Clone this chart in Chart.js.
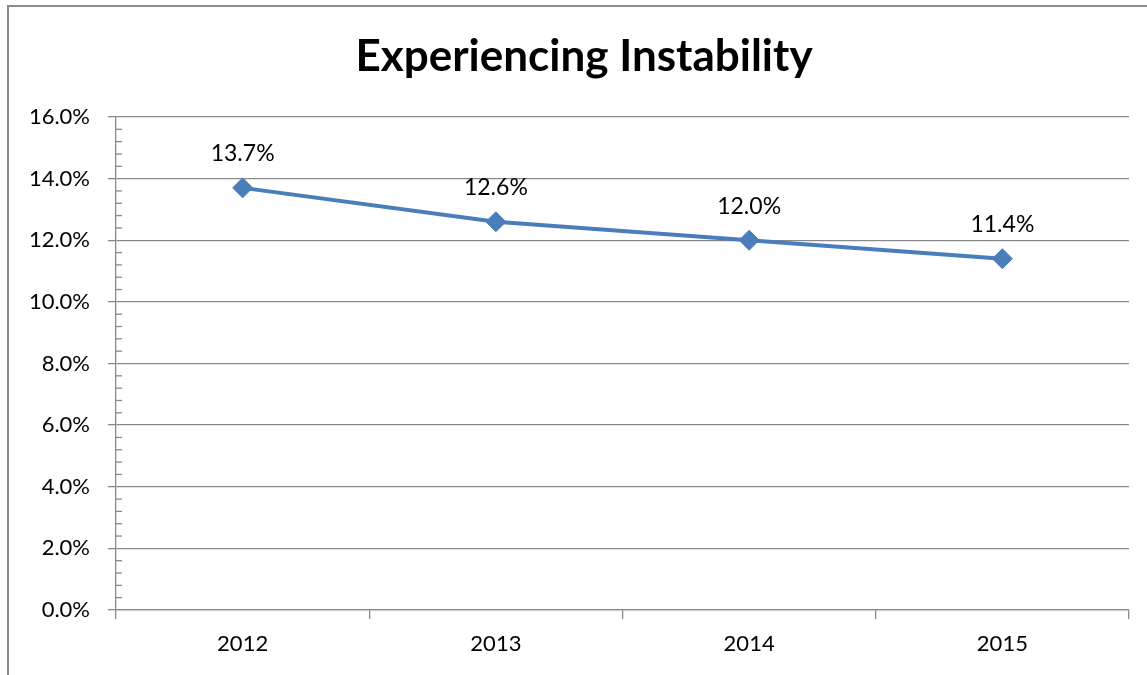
<!DOCTYPE html>
<html>
<head>
<meta charset="utf-8">
<script src="https://cdn.jsdelivr.net/npm/chart.js@4.4.1/dist/chart.umd.min.js"></script>
<style>
  html, body { margin: 0; padding: 0; background: #fff; }
  #wrap { width: 1147px; height: 675px; position: relative; }
</style>
</head>
<body>
<div id="wrap"><canvas id="chart" width="1147" height="675"></canvas></div>
<script>
const years = ['2012', '2013', '2014', '2015'];
const instability = [13.7, 12.6, 12.0, 11.4];
const chartTitle = 'Experiencing Instability';
const yMin = 0;
const yMax = 16;
const yStep = 2;
const minorStep = 0.4;

const fontFamily = 'Lato, "Open Sans", sans-serif';
const gridColor = '#8a8a8a';

// outer frame + title (frame runs past the window on the right and bottom)
const framePlugin = {
  id: 'frame',
  beforeDraw(chart) {
    const ctx = chart.ctx;
    ctx.save();
    ctx.strokeStyle = '#8c8c8c';
    ctx.lineWidth = 2;
    ctx.strokeRect(8, 6, 1300, 1300);
    ctx.fillStyle = '#000';
    ctx.font = `bold 44px ${fontFamily}`;
    ctx.textAlign = 'center';
    ctx.textBaseline = 'middle';
    ctx.fillText(chartTitle, 584, 57);
    ctx.restore();
  },
};

// minor ticks on the inside of the y axis
const minorTicksPlugin = {
  id: 'minorTicks',
  afterDraw(chart) {
    const y = chart.scales.y;
    const ctx = chart.ctx;
    const x0 = chart.chartArea.left;
    ctx.save();
    ctx.strokeStyle = gridColor;
    ctx.lineWidth = 1.3;
    for (let v = yMin; v <= yMax + 1e-9; v += minorStep) {
      const rounded = Math.round(v * 10) / 10;
      if (Math.abs(rounded % yStep) < 1e-6) continue;
      const py = y.getPixelForValue(rounded);
      ctx.beginPath();
      ctx.moveTo(x0, py);
      ctx.lineTo(x0 + 6, py);
      ctx.stroke();
    }
    ctx.restore();
  },
};

// value labels above each point
const valueLabelsPlugin = {
  id: 'valueLabels',
  afterDatasetsDraw(chart) {
    const ctx = chart.ctx;
    const meta = chart.getDatasetMeta(0);
    const values = chart.data.datasets[0].data;
    ctx.save();
    ctx.fillStyle = '#000';
    ctx.font = `23px ${fontFamily}`;
    ctx.textAlign = 'center';
    ctx.textBaseline = 'middle';
    meta.data.forEach((pt, i) => {
      ctx.fillText(`${values[i].toFixed(1)}%`, pt.x, pt.y - 34);
    });
    ctx.restore();
  },
};

new Chart(document.getElementById('chart'), {
  type: 'line',
  data: {
    labels: years,
    datasets: [
      {
        label: chartTitle,
        data: instability,
        borderColor: '#4a7ebb',
        backgroundColor: '#4a7ebb',
        borderWidth: 4,
        pointStyle: 'rectRot',
        pointRadius: 10,
        pointBorderWidth: 1,
        pointBorderColor: '#4a7ebb',
        pointBackgroundColor: '#4a7ebb',
        tension: 0,
        fill: false,
      },
    ],
  },
  options: {
    responsive: false,
    animation: false,
    devicePixelRatio: 1,
    layout: { padding: { left: 0, right: 18, top: 117, bottom: 0 } },
    plugins: {
      legend: { display: false },
      tooltip: { enabled: false },
      title: { display: false },
    },
    scales: {
      x: {
        offset: true,
        grid: {
          offset: true,
          drawOnChartArea: false,
          color: gridColor,
          lineWidth: 1.3,
          tickLength: 9,
        },
        border: { color: gridColor, width: 1.3 },
        ticks: {
          color: '#000',
          font: { family: fontFamily, size: 22 },
          padding: 12,
        },
        afterFit(scale) {
          scale.height = 65;
          scale.paddingLeft = 0;
          scale.paddingRight = 0;
        },
      },
      y: {
        min: yMin,
        max: yMax,
        grid: {
          color: gridColor,
          lineWidth: 1.3,
          tickLength: 8,
        },
        border: { color: gridColor, width: 1.3 },
        ticks: {
          stepSize: yStep,
          color: '#000',
          font: { family: fontFamily, size: 22 },
          padding: 18,
          callback: (v) => `${Number(v).toFixed(1)}%`,
        },
        afterFit(scale) { scale.width = 116; },
      },
    },
  },
  plugins: [framePlugin, minorTicksPlugin, valueLabelsPlugin],
});
</script>
</body>
</html>
